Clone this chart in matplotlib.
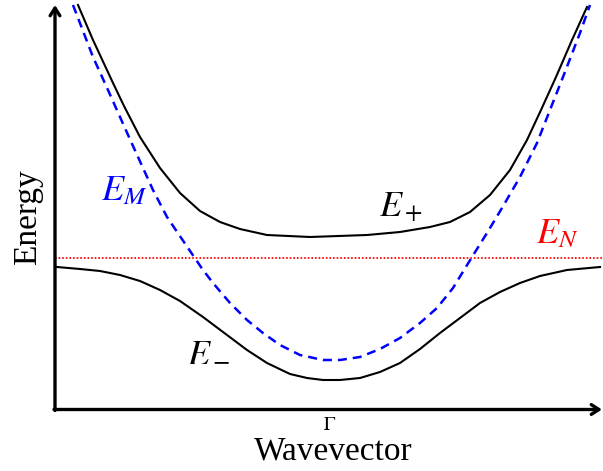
import matplotlib
matplotlib.use("Agg")
import matplotlib.pyplot as plt

# ---- data (arbitrary units; Gamma at k = 0) ----
k_M = [-257, -237, -222, -210, -197, -177, -163, -142, -127, -117, -100, -83, -67, -50,
       -30, -7, 10, 30, 50, 70, 90, 107, 123, 142, 157, 172, 190, 207, 218, 233, 250, 260]
E_M = [403, 351, 318, 291, 262, 218, 191, 160, 138, 125, 105, 88, 75, 63,
       53, 48, 48, 51, 59, 70, 85, 100, 120, 151, 175, 200, 231, 265, 293, 331, 375, 403]

k_plus = [-252, -237, -217, -206, -190, -170, -150, -130, -110, -90, -63, -20,
          37, 70, 100, 120, 140, 160, 180, 197, 211, 226, 242, 257]
E_plus = [403, 368, 325, 302, 271, 240, 215, 197, 186, 179, 173, 171,
          173, 176, 181, 186, 196, 213, 238, 268, 298, 331, 368, 401]

k_minus = [-273, -250, -230, -210, -190, -170, -150, -127, -103, -83, -63, -40, -23, -7,
           10, 30, 50, 70, 90, 110, 130, 150, 170, 190, 210, 237, 270]
E_minus = [141, 139, 137, 133, 127, 118, 107, 91, 73, 58, 45, 34, 30, 28,
           28, 30, 36, 45, 59, 75, 90, 105, 116, 125, 132, 138, 141]

E_N = 150.5
k_range = [-275, 273]
E_top = 403

plt.rcParams['mathtext.fontset'] = 'stix'

fig = plt.figure(figsize=(6.03, 4.71), dpi=100)
W, H = 603, 471
ax = fig.add_axes([55 / W, (H - 408) / H, 548 / W, 403 / H])
ax.set_xlim(k_range)
ax.set_ylim(0, E_top)
ax.axis('off')

ax.plot(k_range, [E_N, E_N], color='#ff0000', lw=1.3, dashes=(0.9, 1.1), clip_on=False)
ax.plot(k_M, E_M, color='#0000ff', lw=1.8, dashes=(3.6, 2.4), clip_on=False)
ax.plot(k_plus, E_plus, color='black', lw=1.5, clip_on=False)
ax.plot(k_minus, E_minus, color='black', lw=1.5, clip_on=False)

# axes arrows
ap = dict(arrowstyle='->,head_width=0.35,head_length=0.55', lw=2.4, color='black',
          shrinkA=0, shrinkB=0)
ax.annotate('', xy=(k_range[0], E_top), xytext=(k_range[0], -2.5),
            arrowprops=ap, annotation_clip=False)
ax.annotate('', xy=(k_range[1] - 1, -1.5), xytext=(k_range[0] - 1, -1.5),
            arrowprops=ap, annotation_clip=False)

serif = ['Liberation Serif', 'DejaVu Serif']
fig.text(28 / W, 1 - 217 / H, 'Energy', rotation=90, ha='center', va='center',
         fontsize=24, family=serif)
fig.text(333 / W, 1 - 451 / H, 'Wavevector', ha='center', va='center',
         fontsize=24, family=serif)
fig.text(330 / W, 1 - 425 / H, r'$\Gamma$', ha='center', va='center',
         fontsize=14)

fig.text(101 / W, 1 - 200 / H, r'$E_M$', color='#0000ff', fontsize=26, ha='left', va='baseline')
fig.text(379 / W, 1 - 216 / H, r'$E_+$', color='black', fontsize=26, ha='left', va='baseline')
fig.text(536 / W, 1 - 243 / H, r'$E_N$', color='#ff0000', fontsize=26, ha='left', va='baseline')
fig.text(187 / W, 1 - 361 / H, r'$E_-$', color='black', fontsize=26, ha='left', va='baseline')

fig.savefig('out.png', dpi=100)
